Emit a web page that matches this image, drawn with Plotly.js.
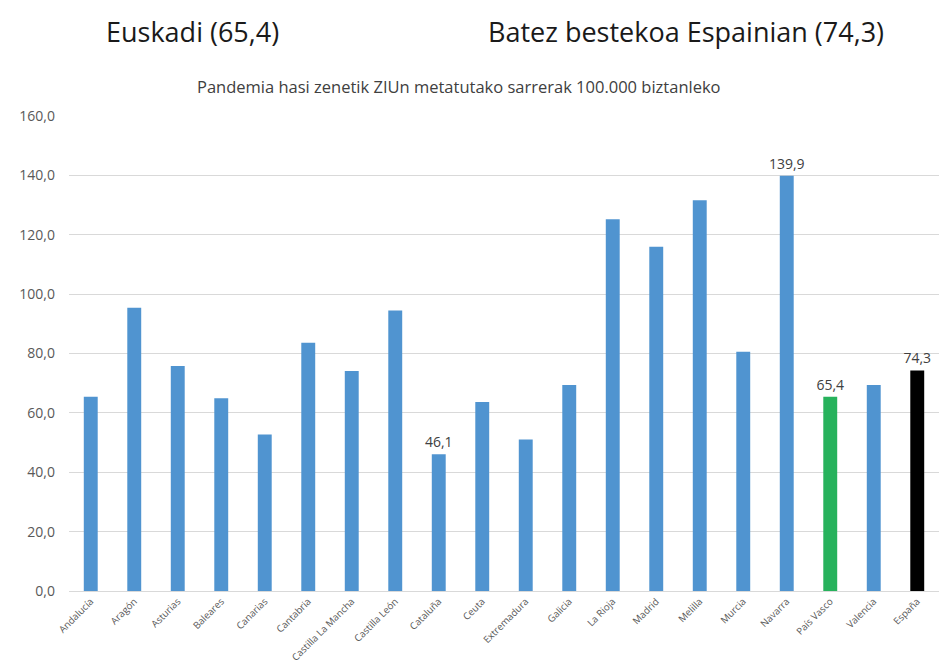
<!DOCTYPE html>
<html>
<head>
<meta charset="utf-8">
<script src="https://cdn.plot.ly/plotly-3.0.1.min.js"></script>
<style>html,body{margin:0;padding:0;background:#fff;}#chart{width:941px;height:665px;}</style>
</head>
<body>
<div id="chart"></div>
<script>
const categories = ["Andalucía","Aragón","Asturias","Baleares","Canarias","Cantabria","Castilla La Mancha","Castilla León","Cataluña","Ceuta","Extremadura","Galicia","La Rioja","Madrid","Melilla","Murcia","Navarra","País Vasco","Valencia","España"];
const values = [65.4, 95.4, 75.8, 64.9, 52.7, 83.6, 74.1, 94.5, 46.1, 63.7, 51.0, 69.4, 125.2, 116.0, 131.6, 80.6, 139.9, 65.4, 69.4, 74.3];
const labels = ["","","","","","","","","46,1","","","","","","","","139,9","65,4","","74,3"];
const colors = categories.map(c => c === "País Vasco" ? "#27B25C" : (c === "España" ? "#000000" : "#5094D0"));

const trace = {
  type: "bar",
  x: categories,
  y: values,
  text: labels,
  textposition: "outside",
  constraintext: "none",
  cliponaxis: false,
  textfont: {family: "Open Sans, sans-serif", size: 14, color: "#404040"},
  marker: {color: colors},
  hoverinfo: "x+y"
};

const L = 69, R = 939, T = 116, B = 591;
const px = v => (v - L) / (R - L);
const py = v => (B - v) / (B - T);

const layout = {
  width: 941, height: 665,
  margin: {l: L, r: 941 - R, t: T, b: 665 - B},
  paper_bgcolor: "#fff", plot_bgcolor: "#fff",
  separators: ",.",
  bargap: 0.68,
  showlegend: false,
  font: {family: "Open Sans, sans-serif", color: "#595959"},
  xaxis: {
    type: "category",
    tickangle: -45,
    tickfont: {size: 9.7, color: "#595959"},
    showgrid: false,
    showline: true, linecolor: "#d9d9d9", linewidth: 1,
    ticks: "", automargin: false,
    ticklabelstandoff: 0
  },
  yaxis: {
    range: [0, 160],
    dtick: 20,
    tickformat: ".1f",
    tickfont: {size: 14, color: "#595959"},
    showgrid: true, gridcolor: "#d9d9d9", gridwidth: 1,
    zeroline: true, zerolinecolor: "#d9d9d9",
    showline: false, ticks: "", ticklen: 0, automargin: false,
    ticklabelstandoff: 13
  },
  annotations: [
    {text: "Euskadi (65,4)", xref: "paper", yref: "paper", x: px(192), xanchor: "center", y: py(32), yanchor: "middle", showarrow: false, font: {size: 27, color: "#1a1a1a", family: "Open Sans, sans-serif"}},
    {text: "Batez bestekoa Espainian (74,3)", xref: "paper", yref: "paper", x: px(686), xanchor: "center", y: py(32), yanchor: "middle", showarrow: false, font: {size: 27, color: "#1a1a1a", family: "Open Sans, sans-serif"}},
    {text: "Pandemia hasi zenetik ZIUn metatutako sarrerak 100.000 biztanleko", xref: "paper", yref: "paper", x: px(459), xanchor: "center", y: py(87), yanchor: "middle", showarrow: false, font: {size: 16.5, color: "#404040", family: "Open Sans, sans-serif"}}
  ]
};

Plotly.newPlot("chart", [trace], layout, {displayModeBar: false, staticPlot: true});
</script>
</body>
</html>
